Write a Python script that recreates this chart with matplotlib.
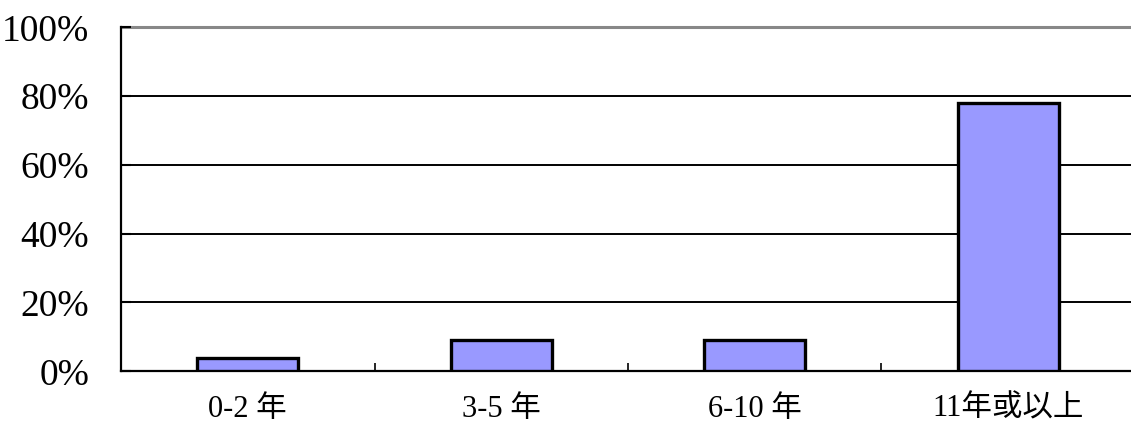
import matplotlib
matplotlib.use("Agg")
import matplotlib.pyplot as plt

categories = ["0-2 年", "3-5 年", "6-10 年", "11年或以上"]
values = [4, 9, 9, 78]
yticks = [0, 20, 40, 60, 80, 100]
ytick_labels = ["0%", "20%", "40%", "60%", "80%", "100%"]

plt.rcParams['font.family'] = ['Liberation Serif', 'Noto Sans CJK TC']

fig = plt.figure(figsize=(11.31, 4.25), dpi=100)
ax = fig.add_axes([0.107, 0.1264, 0.8965, 0.8094])

x = list(range(len(categories)))
ax.bar(x, values, width=0.4, color="#9999FF", edgecolor="black", linewidth=2.4, zorder=3)

ax.set_xlim(-0.5, len(categories) - 0.5)
ax.set_ylim(0, 100)
ax.set_yticks(yticks)
ax.set_yticklabels(ytick_labels, fontsize=27)
ax.set_xticks(x)
ax.set_xticklabels(categories, fontsize=22)
ax.set_xticks([i + 0.5 for i in x[:-1]], minor=True)

ax.tick_params(axis='x', which='major', length=0, pad=17)
ax.tick_params(axis='x', which='minor', direction='in', length=6, width=1.2)
ax.tick_params(axis='y', direction='in', length=7, width=1.5, pad=23)

ax.yaxis.grid(True, color='black', linewidth=1.4)
ax.set_axisbelow(True)
gl = ax.yaxis.get_gridlines()
gl[-1].set_color('#888888')
gl[-1].set_linewidth(2.2)
for g in gl:
    g.set_clip_on(False)

for s in ['top', 'right']:
    ax.spines[s].set_visible(False)
ax.spines['left'].set_linewidth(1.6)
ax.spines['bottom'].set_linewidth(1.6)

fig.savefig("out.png", dpi=100)
